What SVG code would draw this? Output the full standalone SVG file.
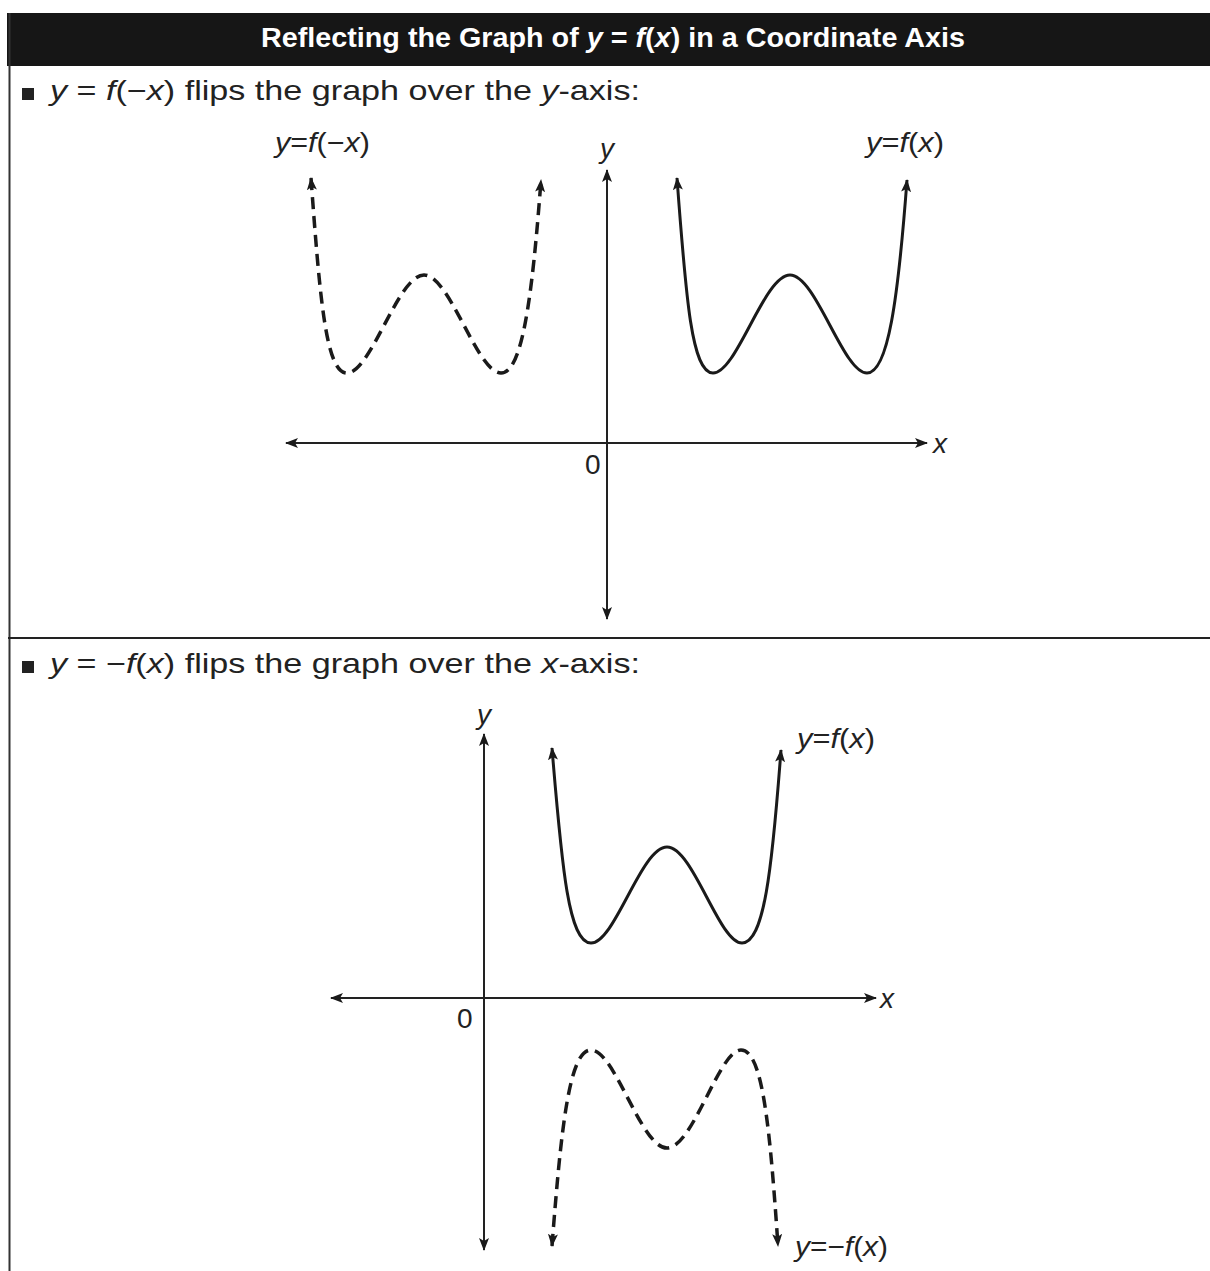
<svg xmlns="http://www.w3.org/2000/svg" width="1210" height="1271" viewBox="0 0 1210 1271">
<style>
.ax{fill:none;stroke:#222;stroke-width:2}
.cv{fill:none;stroke:#1a1a1a;stroke-width:3}
.dash{stroke-width:3.5;stroke-dasharray:12 7}
.lbl{font-family:"Liberation Sans",Arial,sans-serif;font-size:28px;fill:#222}
.it{font-style:italic}
.bul{font-family:"Liberation Sans",Arial,sans-serif;font-size:28px;fill:#222}
.title{font-family:"Liberation Sans",Arial,sans-serif;font-size:27px;font-weight:bold;fill:#fff}
</style>
<defs>
<marker id="ah" viewBox="0 0 13 10" refX="12" refY="5" markerWidth="13" markerHeight="10" markerUnits="userSpaceOnUse" orient="auto-start-reverse">
<path d="M0,0 L13,5 L0,10 L3,5 Z" fill="#1a1a1a"/>
</marker>
</defs>
<rect width="1210" height="1271" fill="#fff"/>
<g id="header">
<rect x="7" y="13" width="1203" height="53" fill="#161616"/>
<text class="title" x="261" y="47" textLength="704" lengthAdjust="spacingAndGlyphs">Reflecting the Graph of <tspan class="it">y</tspan> = <tspan class="it">f</tspan>(<tspan class="it">x</tspan>) in a Coordinate Axis</text>
</g>
<g id="frame">
<line x1="9.5" y1="13" x2="9.5" y2="1271" stroke="#333" stroke-width="2"/>
<line x1="8" y1="638" x2="1210" y2="638" stroke="#222" stroke-width="2"/>
</g>
<g id="bullet1">
<rect x="22" y="88" width="12" height="12" fill="#222"/>
<text class="bul" x="50" y="100" textLength="590" lengthAdjust="spacingAndGlyphs"><tspan class="it">y</tspan> = <tspan class="it">f</tspan>(−<tspan class="it">x</tspan>) flips the graph over the <tspan class="it">y</tspan>-axis:</text>
</g>
<g id="bullet2">
<rect x="22" y="661" width="12" height="12" fill="#222"/>
<text class="bul" x="50" y="673" textLength="590" lengthAdjust="spacingAndGlyphs"><tspan class="it">y</tspan> = −<tspan class="it">f</tspan>(<tspan class="it">x</tspan>) flips the graph over the <tspan class="it">x</tspan>-axis:</text>
</g>
<g id="connectors">
<line class="ax" x1="286" y1="443" x2="927" y2="443" marker-start="url(#ah)" marker-end="url(#ah)"/>
<line class="ax" x1="607" y1="170" x2="607" y2="619" marker-start="url(#ah)" marker-end="url(#ah)"/>
<line class="ax" x1="331" y1="998" x2="876" y2="998" marker-start="url(#ah)" marker-end="url(#ah)"/>
<line class="ax" x1="484" y1="734" x2="484" y2="1250" marker-start="url(#ah)" marker-end="url(#ah)"/>
</g>
<g id="curve-fx-top">
<path class="cv" d="M677,178 C686,300 692,373 713,373 C737,373 764,275 790,275 C816,275 843,373 867,373 C888,373 898,300 907,180" marker-start="url(#ah)" marker-end="url(#ah)"/>
<text class="lbl" x="866" y="152" textLength="78" lengthAdjust="spacingAndGlyphs"><tspan class="it">y</tspan>=<tspan class="it">f</tspan>(<tspan class="it">x</tspan>)</text>
</g>
<g id="curve-fnegx">
<path class="cv dash" d="M311,178 C320,300 326,373 347,373 C371,373 398,275 424,275 C450,275 477,373 501,373 C522,373 532,300 541,180" marker-start="url(#ah)" marker-end="url(#ah)"/>
<text class="lbl" x="275" y="152" textLength="95" lengthAdjust="spacingAndGlyphs"><tspan class="it">y</tspan>=<tspan class="it">f</tspan>(−<tspan class="it">x</tspan>)</text>
</g>
<g id="labels-top">
<text class="lbl it" x="600" y="158">y</text>
<text class="lbl it" x="933" y="453">x</text>
<text class="lbl" x="585" y="474">0</text>
</g>
<g id="curve-fx-bottom">
<path class="cv" d="M552,748 C562,870 569,943 591,943 C615,943 641,847 667,847 C693,847 719,943 742,943 C764,943 772,870 781,750" marker-start="url(#ah)" marker-end="url(#ah)"/>
<text class="lbl" x="797" y="748" textLength="78" lengthAdjust="spacingAndGlyphs"><tspan class="it">y</tspan>=<tspan class="it">f</tspan>(<tspan class="it">x</tspan>)</text>
</g>
<g id="curve-negfx">
<path class="cv dash" d="M552,1246 C561,1130 569,1050 591,1050 C615,1050 641,1148 667,1148 C693,1148 719,1050 741,1050 C763,1050 770,1130 778,1246" marker-start="url(#ah)" marker-end="url(#ah)"/>
<text class="lbl" x="795" y="1256" textLength="93" lengthAdjust="spacingAndGlyphs"><tspan class="it">y</tspan>=−<tspan class="it">f</tspan>(<tspan class="it">x</tspan>)</text>
</g>
<g id="labels-bottom">
<text class="lbl it" x="477" y="724">y</text>
<text class="lbl it" x="880" y="1008">x</text>
<text class="lbl" x="457" y="1028">0</text>
</g>
</svg>
